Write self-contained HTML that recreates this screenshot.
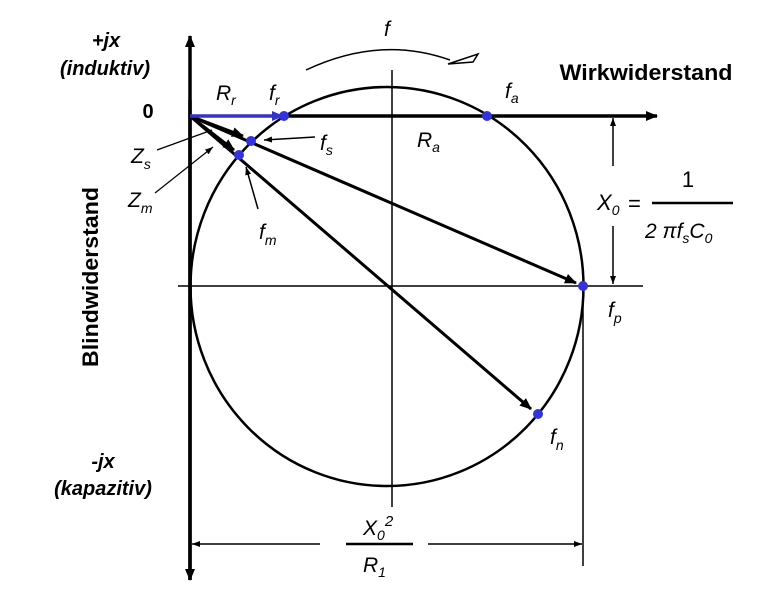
<!DOCTYPE html>
<html><head><meta charset="utf-8"><style>body{margin:0;background:#fff}svg{display:block}text{font-family:"Liberation Sans",sans-serif;fill:#000}</style></head><body>
<svg width="762" height="599" viewBox="0 0 762 599">
<defs>
<marker id="ab" markerWidth="12" markerHeight="10" refX="11" refY="5" orient="auto" markerUnits="userSpaceOnUse"><path d="M0,0 L12,5 L0,10 Z" fill="#000"/></marker>
<marker id="ablue" markerWidth="12" markerHeight="10" refX="11" refY="5" orient="auto" markerUnits="userSpaceOnUse"><path d="M0,0 L12,5 L0,10 Z" fill="#3333cc"/></marker>
<marker id="as" markerWidth="8" markerHeight="6" refX="8" refY="3" orient="auto" markerUnits="userSpaceOnUse"><path d="M0,0 L8,3 L0,6 Z" fill="#000"/></marker>
</defs>
<g stroke="#000" fill="none">
<ellipse cx="387" cy="286.5" rx="196.5" ry="199.5" stroke-width="2.5"/>
<line x1="190" y1="580" x2="190" y2="36" stroke-width="3.5" marker-end="url(#ab)"/>
<line x1="190" y1="100" x2="190" y2="580" stroke-width="3.5" marker-end="url(#ab)"/>
<line x1="284" y1="116" x2="657" y2="116" stroke-width="3.5" marker-end="url(#ab)"/>
<line x1="178" y1="286" x2="643" y2="286" stroke-width="1.5"/>
<line x1="392" y1="70" x2="392" y2="507" stroke-width="1.5"/>
<line x1="583" y1="286" x2="583" y2="566" stroke-width="1.5"/>
<line x1="320" y1="544" x2="192" y2="544" stroke-width="1.5" marker-end="url(#as)"/>
<line x1="428" y1="544" x2="582" y2="544" stroke-width="1.5" marker-end="url(#as)"/>
<line x1="346" y1="544" x2="413" y2="544" stroke-width="2.5"/>
<line x1="613" y1="166" x2="613" y2="118" stroke-width="1.5" marker-end="url(#as)"/>
<line x1="613" y1="226" x2="613" y2="284" stroke-width="1.5" marker-end="url(#as)"/>
<line x1="190" y1="116" x2="576" y2="283" stroke-width="3" marker-end="url(#ab)"/>
<line x1="190" y1="116" x2="531" y2="409" stroke-width="3" marker-end="url(#ab)"/>
<line x1="190" y1="116" x2="243" y2="136" stroke-width="3" marker-end="url(#ab)"/>
<line x1="190" y1="116" x2="234" y2="150" stroke-width="3" marker-end="url(#ab)"/>
<path d="M306,70 Q380,35 450,60" stroke-width="1.5"/>
<path d="M448,64 L473,62 L478,54 Z" stroke-width="1.5"/>
<line x1="315" y1="137" x2="264" y2="140" stroke-width="1.5" marker-end="url(#as)"/>
<line x1="258" y1="209" x2="246" y2="167" stroke-width="1.5" marker-end="url(#as)"/>
<line x1="157" y1="150" x2="212" y2="130" stroke-width="1.2"/>
<line x1="155" y1="193" x2="213" y2="147" stroke-width="1.2" marker-end="url(#as)"/>
</g>
<line x1="190" y1="116" x2="283" y2="116" stroke="#3333cc" stroke-width="3.5" marker-end="url(#ablue)"/>
<g fill="#3333dd">
<circle cx="284" cy="116" r="5"/><circle cx="487" cy="116" r="5"/><circle cx="583" cy="286" r="5"/><circle cx="538" cy="414" r="5"/><circle cx="251" cy="141" r="5"/><circle cx="239" cy="155" r="5"/>
</g>
<g font-size="20" font-weight="bold">
<text x="106" y="47" text-anchor="middle" font-style="italic">+jx</text>
<text x="105" y="75" text-anchor="middle" font-style="italic">(induktiv)</text>
<text x="148" y="118" text-anchor="middle">0</text>
<text x="103" y="468" text-anchor="middle" font-style="italic">-jx</text>
<text x="103" y="495" text-anchor="middle" font-style="italic">(kapazitiv)</text>
<text transform="translate(98,277) rotate(-90)" text-anchor="middle" font-size="22" textLength="180" lengthAdjust="spacingAndGlyphs">Blindwiderstand</text>
<text x="646" y="80" text-anchor="middle" font-size="22" textLength="173" lengthAdjust="spacingAndGlyphs">Wirkwiderstand</text>
</g>
<g font-size="21" font-style="italic">
<text x="216" y="100">R<tspan font-size="14" dy="5">r</tspan></text>
<text x="269" y="100">f<tspan font-size="14" dy="5">r</tspan></text>
<text x="384" y="36">f</text>
<text x="505" y="98">f<tspan font-size="14" dy="5">a</tspan></text>
<text x="320" y="150">f<tspan font-size="14" dy="5">s</tspan></text>
<text x="417" y="147">R<tspan font-size="14" dy="5">a</tspan></text>
<text x="131" y="163">Z<tspan font-size="14" dy="6">s</tspan></text>
<text x="128" y="207">Z<tspan font-size="14" dy="6">m</tspan></text>
<text x="259" y="239">f<tspan font-size="14" dy="6">m</tspan></text>
<text x="608" y="317">f<tspan font-size="14" dy="6">p</tspan></text>
<text x="550" y="444">f<tspan font-size="14" dy="6">n</tspan></text>
<text x="597" y="210" font-size="22">X<tspan font-size="14" dy="5">0</tspan></text>
<text x="363" y="535">X<tspan font-size="14" dy="5">0</tspan><tspan font-size="15" dy="-14">2</tspan></text>
<text x="363" y="572">R<tspan font-size="14" dy="5">1</tspan></text>
<text x="645" y="238" font-size="21">2 πf<tspan font-size="14" dy="5">s</tspan><tspan dy="-5">C</tspan><tspan font-size="14" dy="5">0</tspan></text>
</g>
<text x="628" y="211" font-size="22">=</text>
<text x="688" y="187" font-size="22" text-anchor="middle">1</text>
<line x1="652" y1="203" x2="733" y2="203" stroke="#000" stroke-width="2.5"/>
</svg>
</body></html>
